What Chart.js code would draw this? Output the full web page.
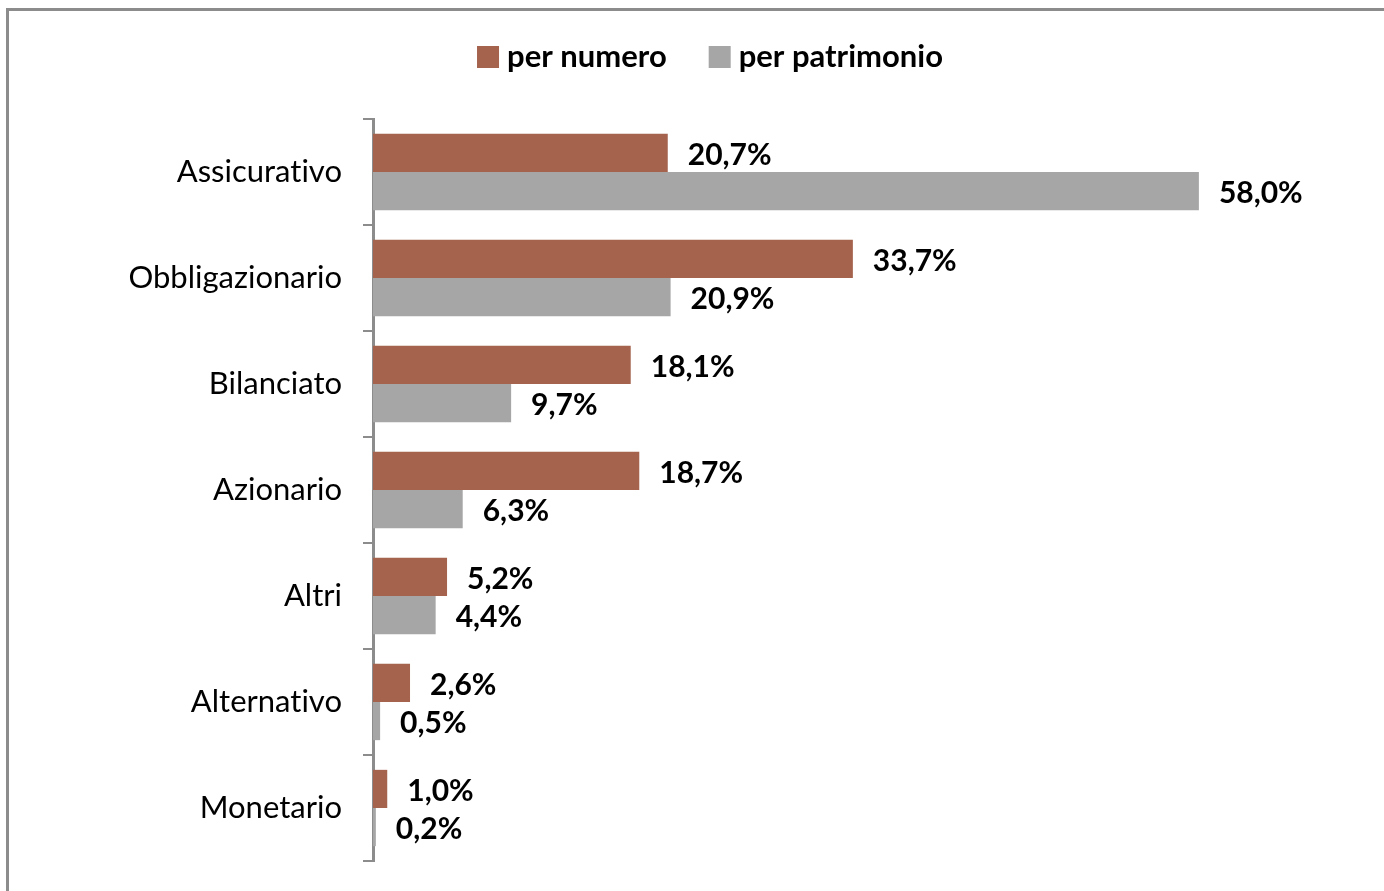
<!DOCTYPE html>
<html>
<head>
<meta charset="utf-8">
<script src="https://cdn.jsdelivr.net/npm/chart.js@4"></script>
<style>
  html, body { margin: 0; padding: 0; background: #fff; overflow: hidden; }
  #wrap { position: relative; width: 1384px; height: 891px; }
  #frame { position: absolute; left: 6px; top: 8px; width: 1400px; height: 900px; border: 3px solid #8c8c8c; box-sizing: border-box; }
  canvas { position: absolute; left: 0; top: 0; }
</style>
</head>
<body>
<div id="wrap">
  <div id="frame"></div>
  <canvas id="chart" width="1384" height="891"></canvas>
</div>
<script>
// ===== DATA =====
const categories = ['Assicurativo', 'Obbligazionario', 'Bilanciato', 'Azionario', 'Altri', 'Alternativo', 'Monetario'];
const perNumero = [20.7, 33.7, 18.1, 18.7, 5.2, 2.6, 1.0];
const perPatrimonio = [58.0, 20.9, 9.7, 6.3, 4.4, 0.5, 0.2];
const seriesNames = ['per numero', 'per patrimonio'];

const FONT = 'Lato';
const fmt = v => v.toFixed(1).replace('.', ',') + '%';

// no "ti" ligatures, like the original
const noLigatures = {
  id: 'noLigatures',
  beforeDraw(chart) { chart.ctx.textRendering = 'optimizeSpeed'; }
};

// bold value labels to the right of each bar
const valueLabels = {
  id: 'valueLabels',
  afterDatasetsDraw(chart) {
    const ctx = chart.ctx;
    ctx.save();
    ctx.font = `bold 30px ${FONT}`;
    ctx.fillStyle = '#000';
    ctx.textBaseline = 'middle';
    ctx.textAlign = 'left';
    chart.data.datasets.forEach((ds, i) => {
      chart.getDatasetMeta(i).data.forEach((bar, j) => {
        ctx.fillText(fmt(ds.data[j]), bar.x + 20, bar.y + 2);
      });
    });
    ctx.restore();
  }
};

// legend drawn at the top, like the original
const topLegend = {
  id: 'topLegend',
  afterDraw(chart) {
    const ctx = chart.ctx;
    ctx.save();
    ctx.font = `bold 31px ${FONT}`;
    ctx.textBaseline = 'middle';
    const box = 22, gapText = 8, gapItem = 42;
    const items = chart.data.datasets.map(ds => ({ text: ds.label, color: ds.backgroundColor, w: ctx.measureText(ds.label).width }));
    const total = items.reduce((s, it) => s + box + gapText + it.w, 0) + gapItem * (items.length - 1);
    let x = 710 - total / 2;
    const y = 57;
    items.forEach(it => {
      ctx.fillStyle = it.color;
      ctx.fillRect(x, y - box / 2, box, box);
      x += box + gapText;
      ctx.fillStyle = '#000';
      ctx.fillText(it.text, x, y);
      x += it.w + gapItem;
    });
    ctx.restore();
  }
};

new Chart(document.getElementById('chart'), {
  type: 'bar',
  data: {
    labels: categories,
    datasets: [
      { label: seriesNames[0], data: perNumero, backgroundColor: '#a5634e', categoryPercentage: 0.72, barPercentage: 1.0 },
      { label: seriesNames[1], data: perPatrimonio, backgroundColor: '#a6a6a6', categoryPercentage: 0.72, barPercentage: 1.0 }
    ]
  },
  options: {
    indexAxis: 'y',
    responsive: false,
    animation: false,
    layout: { padding: { top: 119, left: 0, right: 0, bottom: 30 } },
    plugins: { legend: { display: false }, tooltip: { enabled: false } },
    scales: {
      x: { display: false, min: 0, max: 71 },
      y: {
        afterFit: s => { s.width = 373; s.paddingTop = 0; s.paddingBottom = 0; },
        border: { display: true, color: '#8c8c8c', width: 3 },
        grid: { display: true, drawOnChartArea: false, offset: true, color: '#8c8c8c', lineWidth: 2, tickLength: 10 },
        ticks: { color: '#000', font: { family: FONT, size: 31 }, padding: 21 }
      }
    }
  },
  plugins: [noLigatures, valueLabels, topLegend]
});
</script>
</body>
</html>
